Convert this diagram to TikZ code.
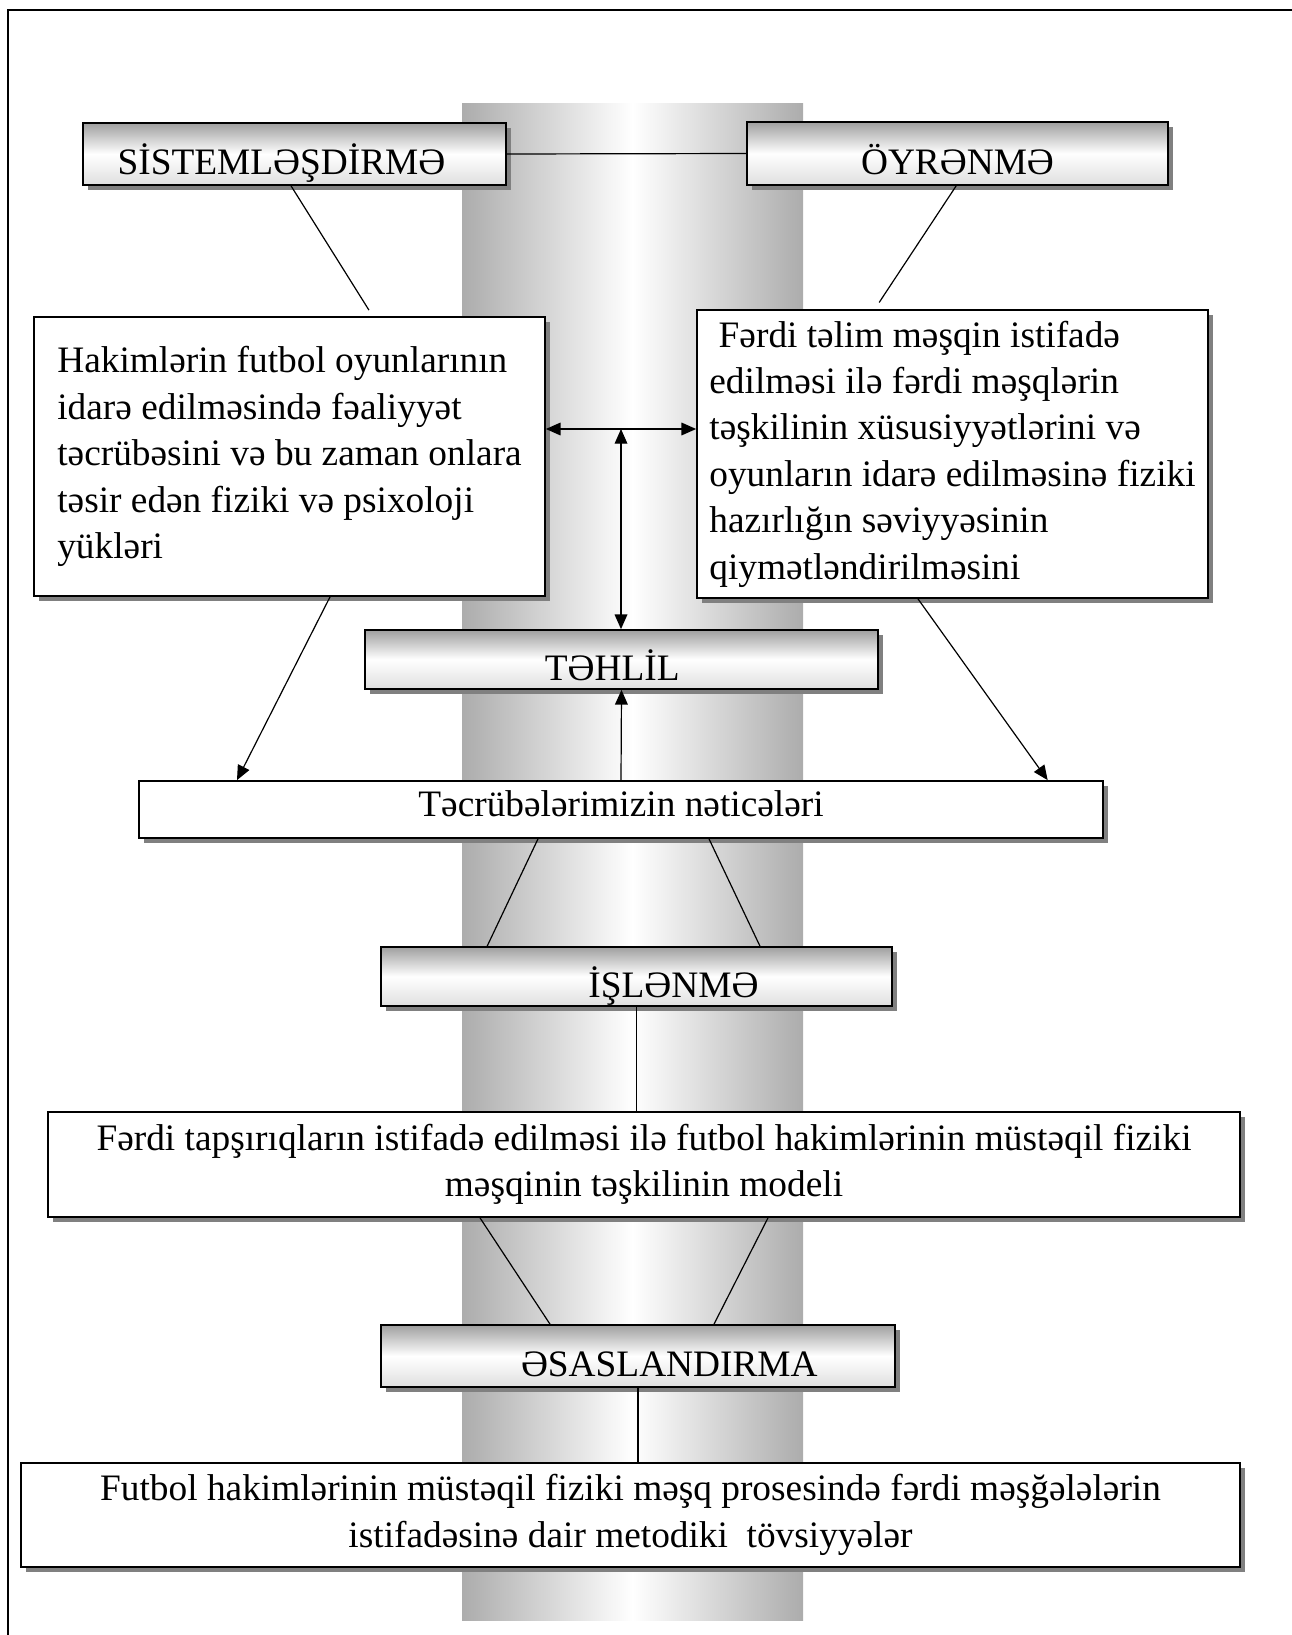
\documentclass[tikz,border=0pt]{standalone}
\usepackage{fontspec}
\setmainfont{Liberation Serif}
\usetikzlibrary{positioning,arrows.meta,shadows}

\begin{document}
\begin{tikzpicture}[x=0.75pt,y=-0.75pt,
    kolge/.style={drop shadow={shadow xshift=3.75pt,shadow yshift=-3.75pt,fill=gray,opacity=1}},
    basliq/.style={draw,line width=1.3pt,top color=gray!75,bottom color=gray!25,middle color=white,
      kolge,inner sep=0pt,text height=31pt,text depth=0pt,font=\fontsize{28}{34.8}\selectfont},
    qutu/.style={draw,line width=1.3pt,fill=white,kolge,inner sep=0pt,
      font=\fontsize{28}{34.8}\selectfont},
    xett/.style={line width=0.9pt},
    ox/.style={line width=0.9pt,-{Triangle[length=11pt,width=9.5pt]}},
    iki/.style={line width=0.9pt,{Triangle[length=11pt,width=9.5pt]}-{Triangle[length=11pt,width=9.5pt]}}]
    \useasboundingbox (0,0) rectangle (1292,1635);

    % Sütun
    \shade[left color=gray!65,right color=gray!65,middle color=white] (462,103) rectangle (803,1620);

    % Çərçivə
    \draw[line width=1.5pt] (8,1635) -- (8,10) -- (1292,10);

    % Başlıqlar
    \node[basliq,minimum width=317.25pt,minimum height=46.5pt] (sist) at (294.5,154) {SİSTEMLƏŞDİRMƏ\hspace*{19.5pt}};
    \node[basliq,minimum width=315.75pt,minimum height=47.25pt] (oyr) at (957.5,153.5) {ÖYRƏNMƏ};
    \node[basliq,minimum width=384.75pt,minimum height=44.25pt] (tehlil) at (621.5,659.5) {TƏHLİL\hspace*{14pt}};
    \node[basliq,minimum width=383.25pt,minimum height=44.25pt] (isl) at (636.5,976.5) {\hspace*{55.5pt}İŞLƏNMƏ};
    \node[basliq,minimum width=385.5pt,minimum height=46.5pt] (esas) at (638,1356) {\hspace*{47pt}ƏSASLANDIRMA};

    % Mətn qutuları
    \node[qutu,align=left,minimum width=383.25pt,minimum height=209.25pt] (lbox) at (289.5,456.5)
      {Hakimlərin futbol oyunlarının\\idarə edilməsində fəaliyyət\\təcrübəsini və bu zaman onlara\\təsir edən fiziki və psixoloji\\yükləri};
    \node[qutu,align=left,minimum width=383.25pt,minimum height=216pt] (rbox) at (952.5,454)
      {\hspace*{0.25em}Fərdi təlim məşqin istifadə\\edilməsi ilə fərdi məşqlərin\\təşkilinin xüsusiyyətlərini və\\oyunların idarə edilməsinə fiziki\\hazırlığın səviyyəsinin\\qiymətləndirilməsini};
    \node[qutu,text depth=9pt,minimum width=723pt,minimum height=42.75pt] (net) at (621,809.5) {Təcrübələrimizin nəticələri};
    \node[qutu,align=center,minimum width=894pt,minimum height=78.75pt] (model) at (644,1164.5)
      {Fərdi tapşırıqların istifadə edilməsi ilə futbol hakimlərinin müstəqil fiziki\\məşqinin təşkilinin modeli};
    \node[qutu,align=center,minimum width=914.25pt,minimum height=78pt] (final) at (630.5,1515)
      {Futbol hakimlərinin müstəqil fiziki məşq prosesində fərdi məşğələlərin\\istifadəsinə dair metodiki\ \ tövsiyyələr};

    % Xətlər
    \draw[xett] (sist.east) -- (oyr.west);
    \draw[xett] ([xshift=-2.6pt]sist.south) -- ([xshift=59.6pt,yshift=4.5pt]lbox.north);
    \draw[xett] ([xshift=-1pt]oyr.south) -- ([xshift=-55pt,yshift=5pt]rbox.north);
    \draw[xett] ([xshift=-62.25pt]net.south) -- ([xshift=-112pt]isl.north);
    \draw[xett] ([xshift=66pt]net.south) -- ([xshift=92.6pt]isl.north);
    \draw[xett] (isl.south) -- (isl.south |- model.north);
    \draw[xett] ([xshift=-123pt]model.south) -- ([xshift=-66pt]esas.north);
    \draw[xett] ([xshift=93pt]model.south) -- ([xshift=57pt]esas.north);
    \draw[xett] (esas.south) -- (esas.south |- final.north);

    % Oxlar
    \coordinate (orta) at (621,429);
    \draw[iki] (lbox.east |- orta) -- (rbox.west |- orta);
    \draw[iki] (orta) -- (orta |- tehlil.north);
    \draw[ox] (net.north) -- (tehlil.south);
    \draw[ox] ([xshift=30.4pt]lbox.south) -- ([xshift=-288pt]net.north);
    \draw[ox] ([xshift=-25.9pt]rbox.south) -- ([xshift=320pt]net.north);
\end{tikzpicture}
\end{document}
